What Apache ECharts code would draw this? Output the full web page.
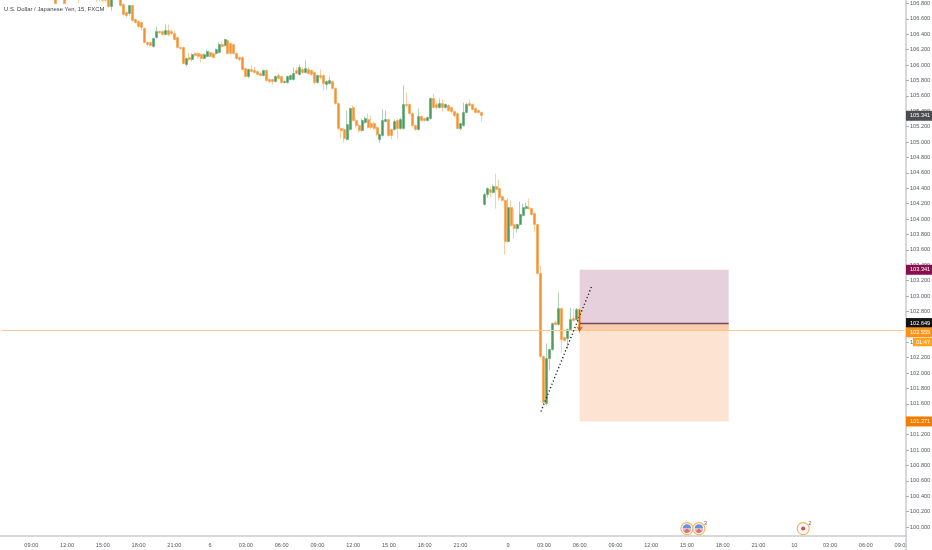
<!DOCTYPE html>
<html><head><meta charset="utf-8">
<style>html,body{margin:0;padding:0;background:#fff}#c{width:932px;height:550px}</style>
<script src="https://cdn.jsdelivr.net/npm/echarts@6/dist/echarts.min.js"></script>
</head><body><div id="c"></div>
<script>
const n = null;
const firstSlot = 18;
const slotCount = 304;
const opens = [
106.90,n,n,106.92,n,n,n,n,106.95,n,
n,n,n,n,106.92,106.90,106.90,106.90,106.95,106.76,
n,n,106.90,106.786,106.682,106.669,106.773,106.591,106.565,106.552,
106.474,106.292,106.292,106.24,106.357,106.435,106.435,106.396,106.448,106.435,
106.409,106.357,106.227,106.227,106.007,106.098,106.072,106.15,106.15,106.137,
106.085,106.111,106.162,106.15,106.15,106.162,106.266,106.253,106.318,106.279,
106.266,106.15,106.098,106.098,105.955,105.851,105.942,105.929,105.916,105.89,
105.864,105.929,105.812,105.812,105.786,105.864,105.851,105.773,105.773,105.812,
105.812,105.929,105.877,105.942,105.903,105.942,105.929,105.903,105.773,105.864,
105.864,105.747,105.76,105.786,105.695,105.5,105.175,105.162,105.032,105.162,
105.448,105.279,105.214,105.149,105.253,105.292,105.24,105.24,105.188,105.032,
105.084,105.266,105.292,105.162,105.162,105.279,105.175,105.175,105.487,105.487,
105.37,105.214,105.162,105.331,105.305,105.279,105.305,105.565,105.487,105.448,
105.5,105.448,105.474,105.448,105.396,105.37,105.175,105.214,105.383,105.5,
105.487,105.435,105.409,105.383,104.188,104.318,104.383,104.344,104.422,104.396,
104.292,104.24,103.707,104.149,103.928,103.876,103.928,104.045,104.136,104.149,
104.136,104.071,103.928,103.292,102.214,101.603,102.188,102.305,102.655,102.629,
102.837,102.46,102.447,102.564,102.707,102.694,102.824];
const closes = [
106.80,n,n,106.80,n,n,n,n,106.88,n,
n,n,n,n,106.86,106.85,106.84,106.84,106.76,106.95,
n,n,106.773,106.656,106.643,106.773,106.578,106.552,106.50,106.487,
106.292,106.266,106.253,106.344,106.435,106.42,106.396,106.448,106.396,106.409,
106.331,106.227,106.214,106.02,106.085,106.072,106.137,106.124,106.111,106.085,
106.137,106.176,106.111,106.098,106.201,106.266,106.24,106.331,106.15,106.15,
106.15,106.085,106.072,105.942,105.851,105.942,105.916,105.903,105.877,105.864,
105.929,105.799,105.786,105.786,105.851,105.825,105.773,105.786,105.851,105.864,
105.89,105.89,105.968,105.903,105.955,105.89,105.877,105.773,105.864,105.838,
105.76,105.786,105.799,105.695,105.5,105.175,105.149,105.045,105.227,105.435,
105.279,105.214,105.149,105.279,105.305,105.188,105.188,105.175,105.097,105.097,
105.279,105.292,105.084,105.084,105.266,105.175,105.292,105.487,105.474,105.37,
105.214,105.162,105.331,105.279,105.279,105.318,105.565,105.448,105.448,105.5,
105.448,105.487,105.409,105.396,105.344,105.175,105.24,105.383,105.487,105.474,
105.422,105.383,105.383,105.344,104.318,104.396,104.344,104.422,104.383,104.279,
104.24,103.707,104.149,103.916,103.876,103.928,104.058,104.149,104.162,104.136,
104.058,103.928,103.292,102.214,101.616,102.188,102.305,102.642,102.629,102.837,
102.434,102.421,102.564,102.694,102.681,102.824,102.555];
const lows = [
106.79,n,n,106.79,n,n,n,n,106.81,n,
n,n,n,n,106.82,106.82,106.81,106.81,106.747,106.708,
n,n,106.76,106.643,106.617,106.643,106.565,106.539,106.487,106.448,
106.279,106.24,106.24,106.227,106.344,106.409,106.383,106.383,106.37,106.396,
106.318,106.214,106.201,106.007,105.981,106.046,106.046,106.111,106.085,106.033,
106.072,106.098,106.098,106.085,106.137,106.15,106.227,106.24,106.137,106.137,
106.137,106.072,106.046,105.929,105.838,105.825,105.903,105.89,105.864,105.851,
105.851,105.786,105.76,105.747,105.773,105.812,105.76,105.76,105.76,105.799,
105.799,105.877,105.864,105.89,105.89,105.877,105.864,105.747,105.76,105.812,
105.669,105.682,105.747,105.682,105.487,105.149,105.045,104.993,105.019,105.149,
105.266,105.188,105.123,105.136,105.24,105.175,105.162,105.162,105.071,104.993,
105.071,105.253,105.071,105.032,105.149,105.045,105.162,105.162,105.448,105.357,
105.188,105.149,105.149,105.266,105.266,105.266,105.292,105.435,105.422,105.435,
105.396,105.435,105.396,105.37,105.318,105.162,105.149,105.201,105.37,105.461,
105.409,105.37,105.37,105.266,104.175,104.279,104.279,104.331,104.136,104.24,
104.227,103.538,103.694,103.903,103.746,103.824,103.915,104.032,104.123,104.123,
104.045,103.837,103.279,102.2,101.577,101.577,102.03,102.292,102.616,102.616,
102.265,102.408,102.317,102.551,102.668,102.681,102.512];
const highs = [
106.95,n,n,107,n,n,n,n,107,n,
n,n,n,n,106.95,106.95,106.95,106.95,107,107,
n,n,106.95,106.80,106.695,106.773,106.78,106.604,106.578,106.565,
106.487,106.305,106.305,106.357,106.50,106.448,106.448,106.526,106.526,106.461,
106.448,106.37,106.24,106.24,106.098,106.162,106.15,106.162,106.162,106.15,
106.15,106.201,106.188,106.162,106.214,106.292,106.305,106.344,106.331,106.292,
106.279,106.162,106.111,106.111,105.968,105.955,105.994,105.981,105.929,105.903,
105.942,105.942,105.825,105.825,105.864,105.89,105.864,105.799,105.864,105.877,
105.968,105.968,106.007,105.968,106.059,105.968,105.942,105.916,105.877,105.942,
105.877,105.799,105.851,105.799,105.708,105.513,105.188,105.188,105.409,105.448,
105.474,105.305,105.24,105.305,105.331,105.37,105.344,105.266,105.201,105.11,
105.422,105.409,105.305,105.175,105.292,105.305,105.318,105.734,105.643,105.5,
105.383,105.227,105.435,105.344,105.318,105.331,105.578,105.63,105.513,105.565,
105.552,105.5,105.487,105.461,105.409,105.383,105.253,105.513,105.513,105.552,
105.5,105.448,105.422,105.396,104.344,104.409,104.409,104.448,104.591,104.513,
104.305,104.253,104.266,104.24,104.136,103.941,104.227,104.201,104.214,104.266,
104.149,104.084,103.941,103.396,102.227,102.383,102.318,102.655,102.681,103.045,
102.85,102.473,102.577,102.85,102.837,102.85,102.85];

const xTickSlots = [10,22,34,46,58,70,82,94,106,118,130,142,154,170,182,194,206,218,230,242,254,266,278,290,302];
const xTickLabels = ['09:00','12:00','15:00','18:00','21:00','6','03:00','06:00','09:00','12:00','15:00','18:00','21:00','9','03:00','06:00','09:00','12:00','15:00','18:00','21:00','10','03:00','06:00','09:00'];
const yTicks = [100,100.2,100.4,100.6,100.8,101,101.2,101.4,101.6,101.8,102,102.2,102.4,102.6,102.8,103,103.2,103.4,103.6,103.8,104,104.2,104.4,104.6,104.8,105,105.2,105.4,105.6,105.8,106,106.2,106.4,106.6,106.8];

const titleText = 'U.S. Dollar / Japanese Yen, 15, FXCM';
const lastPrice = 102.555;
const entryPrice = 102.649;
const stopPrice = 103.341;
const targetPrice = 101.371;
const boxSlots = [194,244];
const boxTops = [stopPrice,entryPrice,entryPrice];
const boxBottoms = [entryPrice,targetPrice,lastPrice];
const boxColors = ['#e5d0dc','#fde3d1','#f9cdaa'];
const dottedSlots = [181,198];
const dottedPrices = [101.5,103.123];
const arrowSlot = 194;
const arrowPrices = [102.82,102.54];
const tagPrices = [105.341,103.341,102.649,102.555,101.371];
const tagTexts = ['105.341','103.341','102.649','102.555','101.371'];
const tagColors = ['#4a4c50','#880e4f','#131313','#f7941d','#f57c00'];
const countdownText = '01:47';
const eventSlots = [230,234,269];
const eventPrice = 99.98;
const eventKinds = ['flag','flag','dot'];
const eventCounts = ['','3','2'];

const GREEN='#4c9a5c', ORANGE='#f5922f', AXIS='#c9cbd0', TXT='#555a63', FONT='"Liberation Sans",sans-serif';
const cats = Array.from({length:slotCount},()=> '');
xTickSlots.forEach((s,k)=>cats[s]=xTickLabels[k]);
const candleData = Array.from({length:slotCount},()=>['-','-','-','-']);
opens.forEach((o,k)=>{ if(o!==null) candleData[firstSlot+k]=[o,closes[k],lows[k],highs[k]]; });

const chart = echarts.init(document.getElementById('c'));
chart.setOption({
  animation:false, backgroundColor:'#fff',
  title:{text:titleText,left:4,top:6,padding:0,textStyle:{fontSize:5.9,fontWeight:'normal',color:'#3f434c',fontFamily:FONT}},
  grid:{left:0,right:26,top:0,bottom:14,containLabel:false,outerBoundsMode:'none'},
  xAxis:{type:'category',data:cats,boundaryGap:true,
    axisLine:{lineStyle:{color:AXIS,width:1.5}},
    axisTick:{alignWithLabel:true,length:3,lineStyle:{color:'#aab0b8',width:1},interval:(i,v)=>v!==''},
    axisLabel:{interval:(i,v)=>v!=='',margin:6,fontSize:5.6,color:TXT,fontFamily:FONT},
    splitLine:{show:false}},
  yAxis:{type:'value',position:'right',min:99.8835,max:106.8445,scale:true,
    axisLine:{show:true,lineStyle:{color:AXIS,width:1.5}},
    axisTick:{show:true,length:3,customValues:yTicks,lineStyle:{color:'#aab0b8',width:1}},
    axisLabel:{customValues:yTicks,margin:4,fontSize:5.6,color:TXT,fontFamily:FONT,formatter:v=>Number(v).toFixed(3)},
    splitLine:{show:false}},
  graphic:[
    {type:'rect',z:100,shape:{x:906.8,y:537,width:26,height:13},style:{fill:'#fff'}},
    {type:'line',z:101,shape:{x1:906,y1:535,x2:906,y2:550},style:{stroke:AXIS,lineWidth:1.5}}
  ],
  series:[
    {type:'custom',name:'position',z:1,silent:true,
     data:boxColors.map((c,k)=>[boxTops[k],boxBottoms[k],k]),
     encode:{y:[0,1]},
     renderItem:(p,api)=>{
       const a=api.coord([boxSlots[0],api.value(0)]), b=api.coord([boxSlots[1],api.value(1)]);
       return {type:'rect',shape:{x:a[0],y:a[1],width:b[0]-a[0],height:b[1]-a[1]},style:{fill:boxColors[api.value(2)]}};
     }},
    {type:'candlestick',z:3,silent:true,barWidth:2.5,data:candleData,
     itemStyle:{color:GREEN,color0:ORANGE,borderColor:GREEN,borderColor0:ORANGE,borderWidth:0.45},
     markLine:{silent:true,animation:false,symbol:'none',label:{show:false},precision:6,data:[
       [{coord:[0,lastPrice],lineStyle:{color:'#f9c78f',width:1,type:'solid'}},{coord:[slotCount-1,lastPrice]}],
       [{coord:[boxSlots[0],entryPrice],lineStyle:{color:'#6e4a66',width:1.4,type:'solid'}},{coord:[boxSlots[1],entryPrice]}],
       [{coord:[dottedSlots[0],dottedPrices[0]],lineStyle:{color:'#222',width:1.4,type:[1.2,2.4]}},{coord:[dottedSlots[1],dottedPrices[1]]}],
       [{coord:[arrowSlot,arrowPrices[0]],symbol:'none',lineStyle:{color:'#d9620c',width:1,type:'solid'}},{coord:[arrowSlot,arrowPrices[1]],symbol:'arrow',symbolSize:5}]
     ]}},
    {type:'custom',name:'events',z:5,silent:true,
     data:eventSlots.map((s,k)=>[s,eventPrice,k]),encode:{x:0,y:1},
     renderItem:(p,api)=>{
       const c=api.coord([api.value(0),api.value(1)]),k=api.value(2),cx=c[0],cy=c[1];
       const ch=[{type:'circle',shape:{cx,cy,r:6},style:{fill:'#fff',stroke:'#f6b661',lineWidth:1.2}}];
       if(eventKinds[k]==='flag'){
         ch.push({type:'sector',shape:{cx,cy,r:4.4,startAngle:Math.PI,endAngle:2*Math.PI},style:{fill:'#6a93d6'}});
         ch.push({type:'rect',shape:{x:cx-4,y:cy+0.9,width:8,height:1.1},style:{fill:'#ea6a70'}});
         ch.push({type:'sector',shape:{cx,cy:cy,r:4.4,startAngle:0.75,endAngle:Math.PI-0.75},style:{fill:'#ea6a70'}});
       } else {
         ch.push({type:'circle',shape:{cx,cy,r:2},style:{fill:'#e0404e'}});
       }
       if(eventCounts[k]) ch.push({type:'text',style:{x:cx+5,y:cy-8.5,text:eventCounts[k],fontSize:6,fontFamily:FONT,fill:'#666'}});
       return {type:'group',children:ch};
     }},
    {type:'custom',name:'tags',z:6,silent:true,
     data:tagPrices.map((v,k)=>[v,k]),encode:{y:0},
     renderItem:(p,api)=>{
       const k=api.value(1),y=api.coord([0,api.value(0)])[1]+(tagTexts[k]==='102.555'?2:0);
       const x=p.coordSys.x+p.coordSys.width;
       const ch=[{type:'rect',shape:{x:x,y:y-5,width:26,height:10},style:{fill:tagColors[k]}},
         {type:'text',style:{x:x+4,y:y,text:tagTexts[k],fontSize:5.6,fontFamily:FONT,fill:'#fff',verticalAlign:'middle',textBaseline:'middle'}}];
       if(tagTexts[k]==='102.555'){
         ch.push({type:'rect',shape:{x:x+7,y:y+5.5,width:19,height:8.5},style:{fill:'#ffa31f'}});
         ch.push({type:'text',style:{x:x+10,y:y+9.8,text:countdownText,fontSize:5.6,fontFamily:FONT,fill:'#fff',verticalAlign:'middle',textBaseline:'middle'}});
       }
       return {type:'group',children:ch};
     }}
  ]
});
</script></body></html>
